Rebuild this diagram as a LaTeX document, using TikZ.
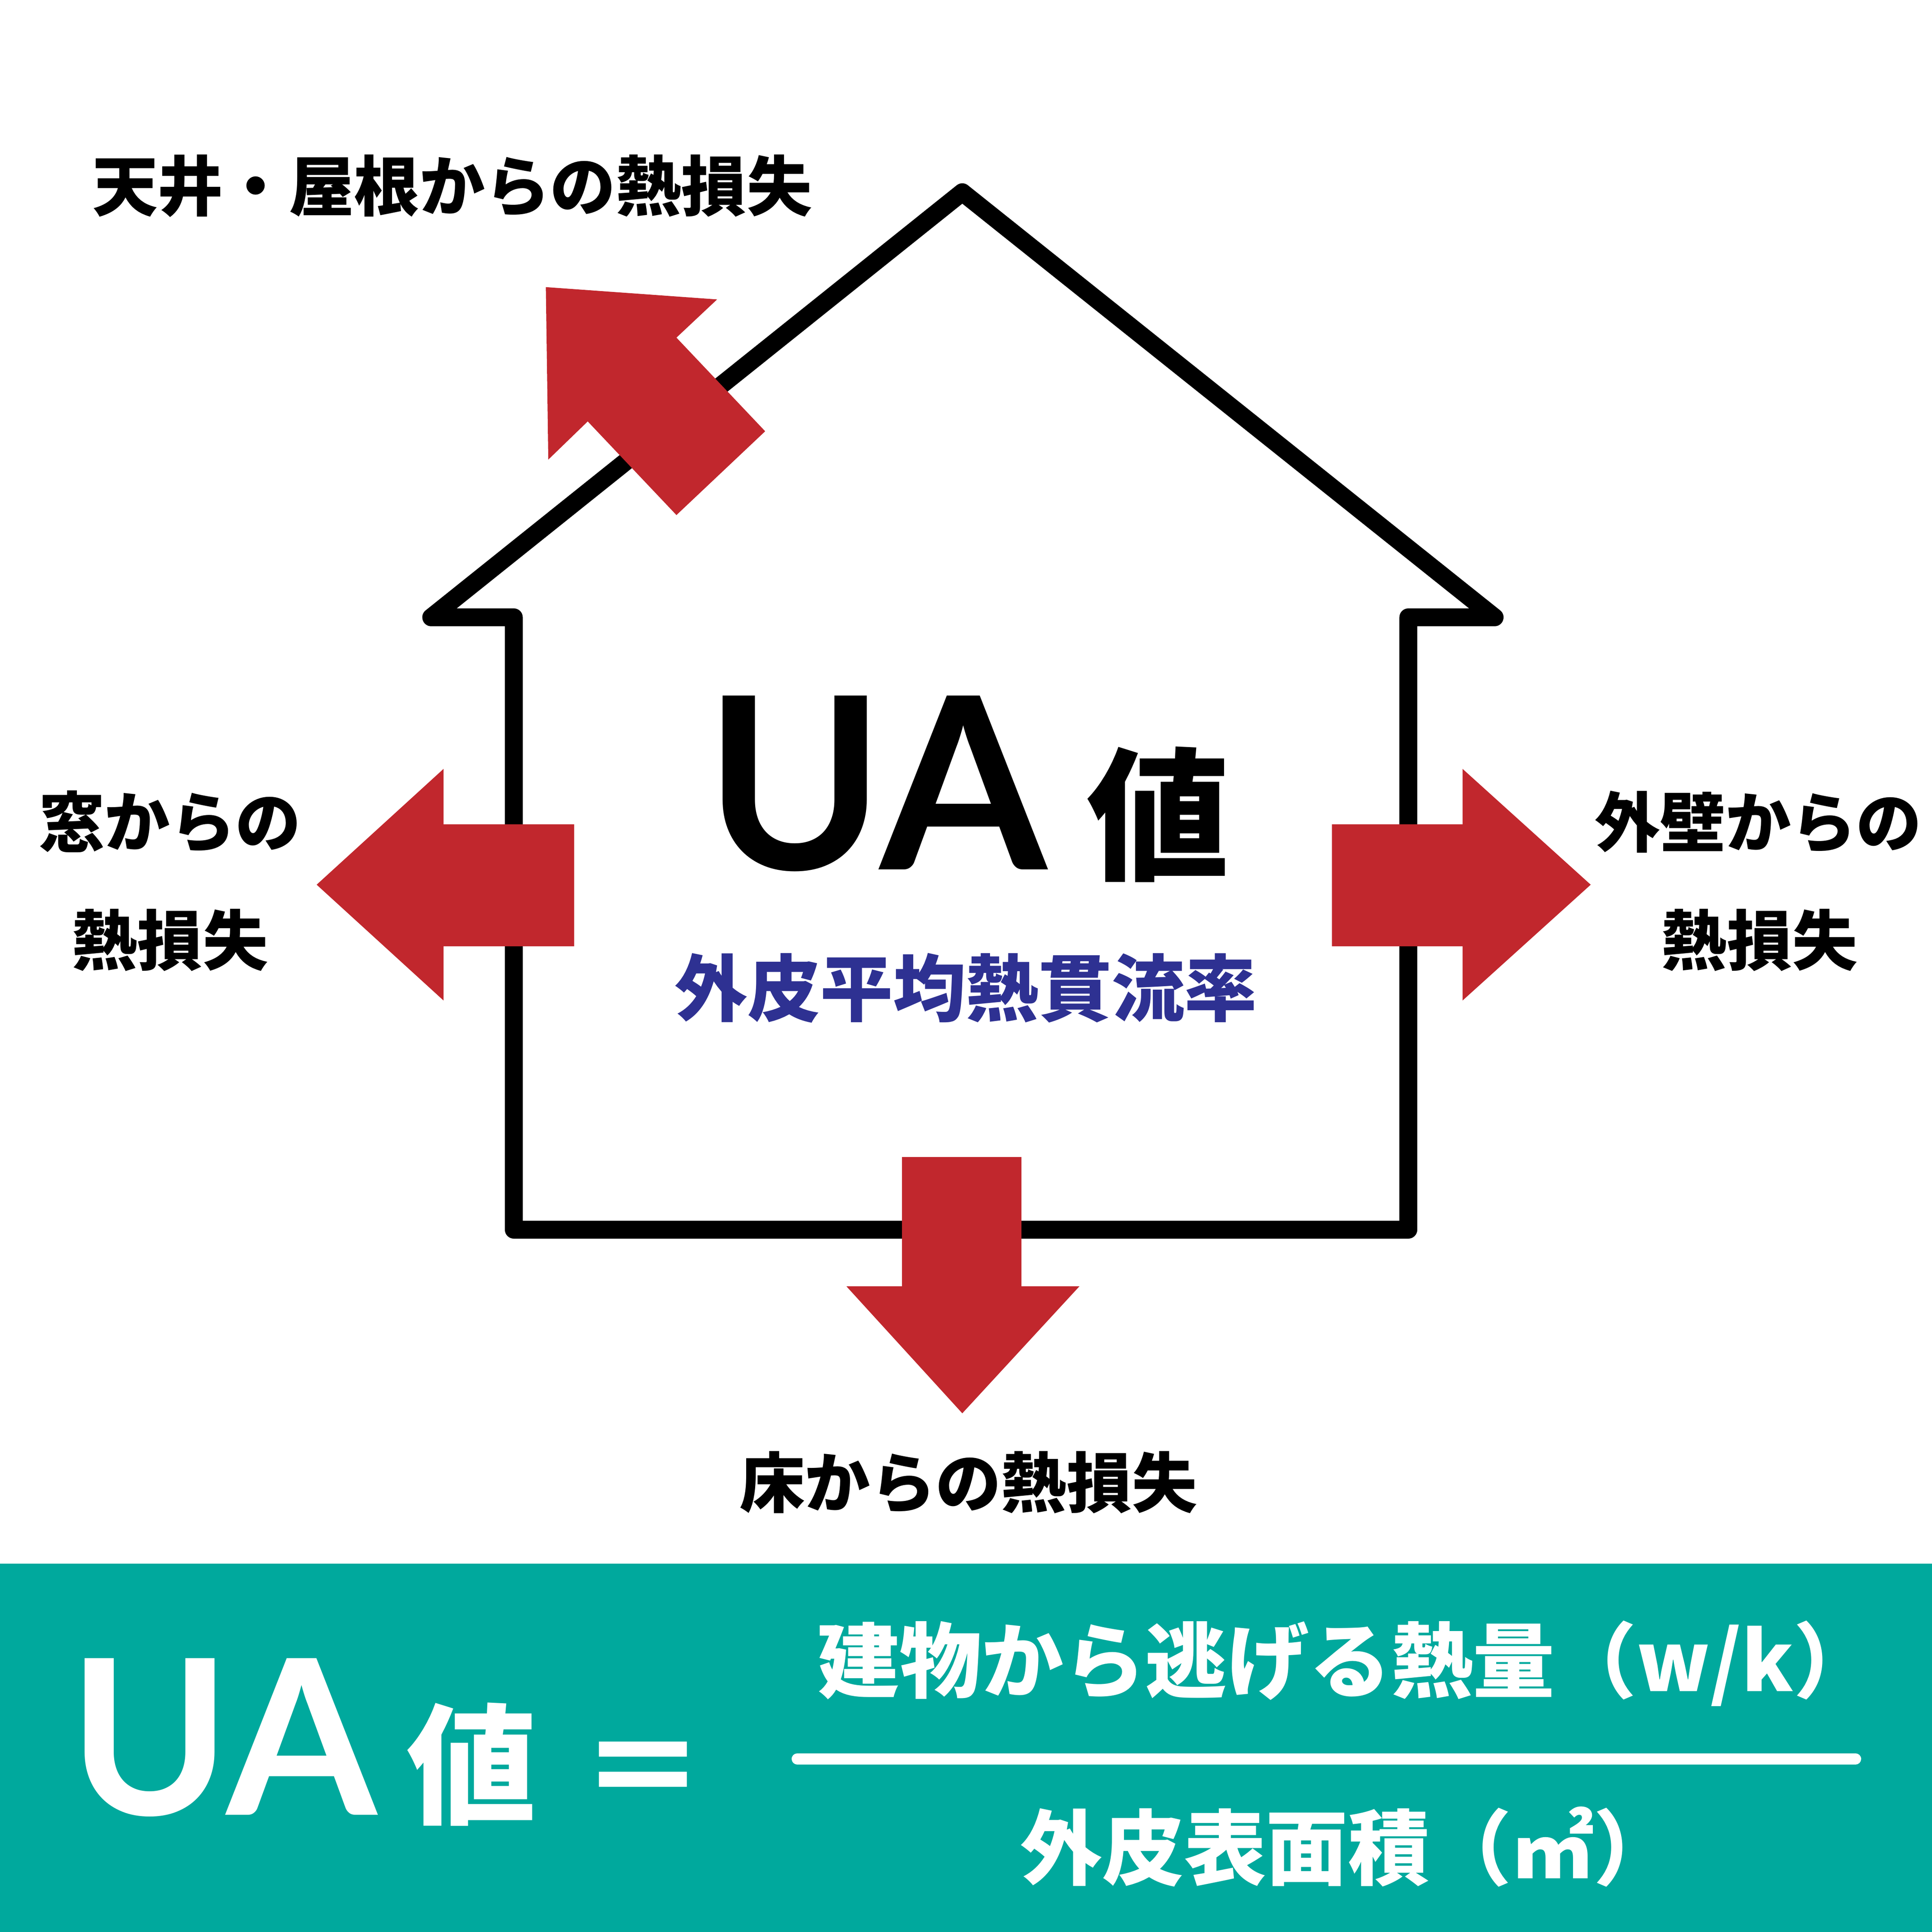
\documentclass[tikz,border=0pt]{standalone}
\usepackage{fontspec}
\newfontfamily\cjk{Noto Sans CJK JP}
\newfontfamily\uafont{Lato}
\definecolor{heatred}{HTML}{C1272D}
\definecolor{bandteal}{HTML}{00A99D}
\definecolor{titleblue}{HTML}{2E3192}
\tikzset{
  heatarrow/.style={fill=heatred},
  label/.style={inner sep=0pt, font=\cjk\bfseries\fontsize{15.1}{18}\selectfont},
  fraclabel/.style={inner sep=0pt, text=white, font=\cjk\bfseries\fontsize{18.9}{22}\selectfont},
}
\begin{document}
\begin{tikzpicture}[x=0.01cm,y=-0.01cm]
\useasboundingbox (0,0) rectangle (1568,1568);
\fill[white] (0,0) rectangle (1568,1568);
\draw[line width=0.145cm, line join=round] (350,501) -- (781,156) -- (1213,501) -- (1143,501) -- (1143,998) -- (417,998) -- (417,501) -- cycle;
\fill[heatarrow] (443,233) -- (582,243) -- (549,274) -- (621,350) -- (549,418) -- (477,342) -- (445,373) -- cycle;
\fill[heatarrow] (466,669) -- (360,669) -- (360,624) -- (257,718) -- (360,812) -- (360,768) -- (466,768) -- cycle;
\fill[heatarrow] (1081,669) -- (1187,669) -- (1187,624) -- (1291,718) -- (1187,812) -- (1187,768) -- (1081,768) -- cycle;
\fill[heatarrow] (732,939) -- (829,939) -- (829,1044) -- (876,1044) -- (781,1147) -- (687,1044) -- (732,1044) -- cycle;
\node[label] (roof) at (367,151) {天井・屋根からの熱損失};
\node[label] (windowa) at (138,667) {窓からの};
\node[label] (windowb) at (138,763) {熱損失};
\node[label] (walla) at (1427,667) {外壁からの};
\node[label] (wallb) at (1428,763) {熱損失};
\node[label] (floor) at (786,1203) {床からの熱損失};
\node[inner sep=0pt, font=\uafont\bfseries\fontsize{55.5}{60}\selectfont] (ua) at (711,636) {UA};
\node[inner sep=0pt, font=\cjk\bfseries\fontsize{33}{36}\selectfont] (value) at (940,661) {値};
\node[inner sep=0pt, text=titleblue, font=\cjk\bfseries\fontsize{16.8}{20}\selectfont] (title) at (784,802) {外皮平均熱貫流率};
\fill[bandteal] (0,1269) rectangle (1568,1568);
\node[inner sep=0pt, text=white, font=\uafont\bfseries\fontsize{50}{54}\selectfont] (uab) at (181,1410) {UA};
\node[inner sep=0pt, text=white, font=\cjk\bfseries\fontsize{30}{34}\selectfont] (valueb) at (383,1432) {値};
\node[inner sep=0pt, text=white, font=\cjk\bfseries\fontsize{29}{32}\selectfont] (equal) at (522,1443) {＝};
\node[fraclabel] (numer) at (1093,1350) {建物から逃げる熱量（w/k）};
\node[fraclabel] (denom) at (1094,1499) {外皮表面積（㎡）};
\coordinate (fraca) at (647,1427.5);
\coordinate (fracb) at (1506,1427.5);
\draw[white, line width=0.09cm, line cap=round] (fraca) -- (fracb);
\end{tikzpicture}
\end{document}
